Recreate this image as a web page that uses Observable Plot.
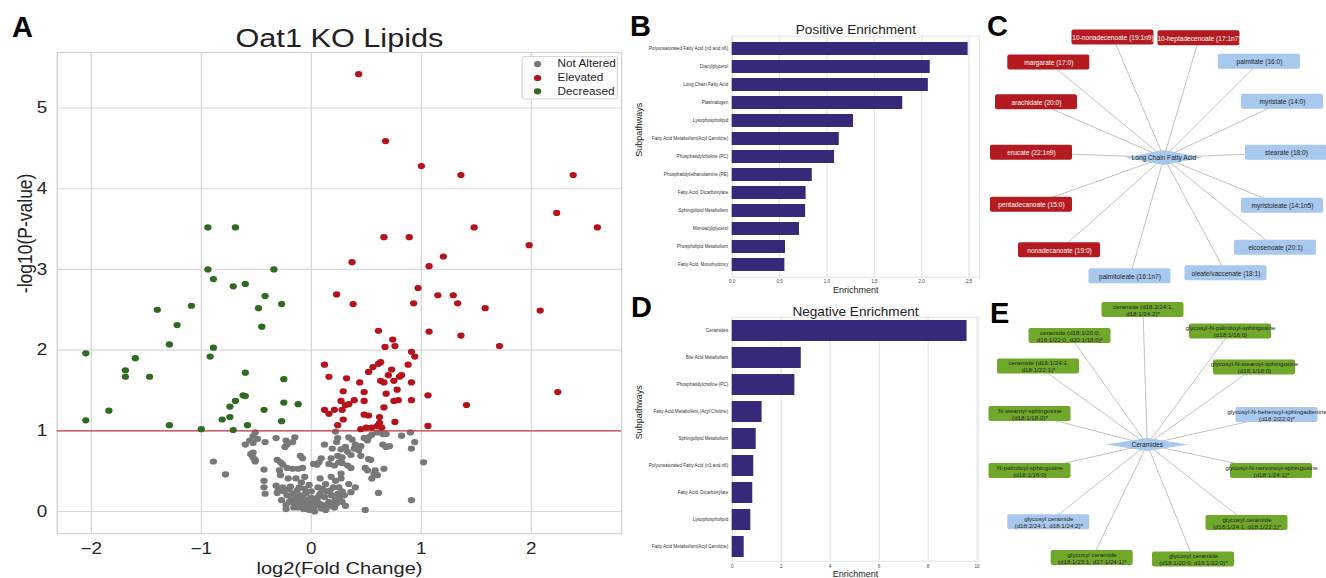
<!DOCTYPE html>
<html>
<head>
<meta charset="utf-8">
<script src="https://cdn.jsdelivr.net/npm/d3@7"></script>
<script src="https://cdn.jsdelivr.net/npm/@observablehq/plot@0.6"></script>
<style>
  html, body { margin: 0; padding: 0; background: #fff; }
  body { width: 1326px; height: 578px; overflow: hidden; position: relative;
         font-family: Arial, "Liberation Sans", Helvetica, sans-serif; }
</style>
</head>
<body>
<script>
// ------------------------------------------------------------------
// DATA
// ------------------------------------------------------------------
// Panel A: volcano plot (log2 fold change, -log10 p-value)
const volcanoTitle = "Oat1 KO Lipids";
const volcanoXLabel = "log2(Fold Change)";
const volcanoYLabel = "-log10(P-value)";
const statusLabels = ["Not Altered", "Elevated", "Decreased"];
const volcanoXTicks = [-2, -1, 0, 1, 2];
const volcanoYTicks = [0, 1, 2, 3, 4, 5];
const pThreshold = 1;

const notAltered = [
  [-0.51,0.98],[-0.53,0.93],[-0.49,0.90],[-0.56,0.88],[-0.53,0.85],[-0.60,0.83],[-0.42,0.86],[-0.32,0.91],
  [-0.15,0.92],[-0.23,0.88],[-0.17,0.86],[-0.22,0.83],[-0.24,0.80],[-0.55,0.71],[-0.53,0.67],[-0.51,0.62],
  [-0.53,0.73],[-0.51,0.64],[-0.10,0.69],[-0.08,0.66],[-0.31,0.64],[-0.28,0.61],[-0.26,0.58],[-0.22,0.54],
  [-0.17,0.53],[-0.12,0.53],[-0.08,0.54],[0.05,0.58],[-0.43,0.52],[-0.29,0.51],[-0.28,0.45],[-0.21,0.41],
  [-0.14,0.41],[-0.06,0.43],[-0.78,0.46],[-0.43,0.38],[-0.43,0.30],[-0.42,0.22],[-0.32,0.32],[-0.26,0.30],
  [-0.31,0.23],[-0.89,0.62],[-0.30,0.26],[-0.23,0.03],[-0.17,0.12],
  [-0.25,0.25],[-0.22,0.20],[-0.20,0.28],[-0.18,0.15],[-0.17,0.22],[-0.15,0.10],[-0.14,0.18],[-0.13,0.26],
  [-0.12,0.05],[-0.11,0.13],[-0.10,0.20],[-0.09,0.08],[-0.08,0.16],[-0.07,0.03],[-0.06,0.11],[-0.05,0.22],
  [-0.04,0.06],[-0.03,0.14],[-0.02,0.02],[-0.01,0.09],[0.00,0.17],[0.01,0.04],[0.02,0.12],[0.03,0.00],
  [0.04,0.07],[0.05,0.15],[-0.20,0.12],[-0.16,0.05],[-0.23,0.08],[-0.27,0.14],[-0.19,0.31],[-0.11,0.30],
  [-0.06,0.28],[0.00,0.25],[-0.02,0.33],[-0.09,0.36],
  [0.06,0.30],[0.08,0.22],[0.10,0.28],[0.12,0.18],[0.14,0.25],[0.16,0.12],[0.18,0.20],[0.20,0.30],
  [0.22,0.15],[0.24,0.22],[0.07,0.10],[0.09,0.04],[0.11,0.08],[0.13,0.02],[0.15,0.06],[0.17,0.26],
  [0.19,0.09],[0.21,0.05],[0.23,0.10],[0.26,0.18],[0.28,0.12],[0.06,0.18],[0.25,0.30],[0.28,0.25],[0.30,0.20],
  [0.22,0.99],[0.34,0.92],[0.37,0.89],[0.24,0.91],[0.23,0.86],[0.12,0.83],[0.19,0.78],[0.27,0.77],
  [0.31,0.80],[0.33,0.74],[0.40,0.83],[0.45,0.81],[0.43,0.76],[0.39,0.78],[0.48,0.91],[0.52,0.92],
  [0.51,0.88],[0.55,0.95],[0.60,0.98],[0.65,0.96],[0.68,0.96],[0.82,0.94],[0.90,0.98],[0.94,0.86],
  [0.65,0.83],[0.68,0.80],[0.91,0.78],[0.71,0.81],[0.09,0.66],[0.18,0.66],[0.24,0.69],[0.28,0.67],
  [0.36,0.70],[0.45,0.69],[0.52,0.65],[0.54,0.64],[0.07,0.61],[0.16,0.59],[0.21,0.57],[0.25,0.61],
  [0.28,0.60],[0.33,0.57],[0.36,0.54],[0.49,0.54],[0.51,0.51],[0.58,0.51],[0.66,0.53],[0.02,0.59],
  [0.08,0.41],[0.18,0.43],[0.22,0.38],[0.27,0.41],[0.27,0.47],[0.13,0.34],[0.57,0.47],[0.60,0.45],
  [0.55,0.41],[0.34,0.34],[0.40,0.30],[0.36,0.24],[0.61,0.23],[0.91,0.14],[0.31,0.07],[0.49,0.02],[1.02,0.61]
];
const elevated = [
  [0.43,5.42],[0.675,4.59],[1.00,4.28],[1.36,4.17],[2.38,4.17],[2.23,3.70],[2.60,3.52],[1.48,3.52],
  [0.66,3.40],[0.89,3.40],[1.98,3.30],[0.37,3.09],[1.20,3.16],[1.07,3.04],[0.97,2.77],
  [0.23,2.69],[0.38,2.57],[1.15,2.68],[1.29,2.68],[1.33,2.58],[0.93,2.58],[1.58,2.52],[2.08,2.49],
  [0.61,2.24],[1.07,2.23],[1.36,2.18],[0.74,2.13],[0.67,2.04],[0.76,2.05],[1.71,2.05],[0.91,1.98],
  [0.94,1.92],[0.12,1.82],[0.63,1.85],[0.56,1.79],[0.61,1.83],[0.88,1.82],[0.52,1.73],[0.73,1.76],
  [0.82,1.69],[0.80,1.67],[0.16,1.67],[0.32,1.65],[0.70,1.69],[0.44,1.60],[0.63,1.62],[0.66,1.60],
  [0.75,1.62],[0.91,1.60],[0.29,1.49],[0.48,1.48],[0.68,1.46],[0.78,1.51],[1.06,1.44],[0.27,1.37],
  [0.39,1.38],[0.48,1.37],[0.34,1.33],[0.31,1.32],[0.75,1.37],[0.79,1.38],[0.91,1.38],[1.41,1.32],
  [0.66,1.29],[0.12,1.26],[0.21,1.26],[0.16,1.21],[0.28,1.26],[0.48,1.20],[0.52,1.19],[0.62,1.17],
  [0.29,1.14],[2.24,1.48],[0.76,1.11],[0.24,1.07],[0.62,1.10],[0.60,1.06],[0.55,1.04],[0.45,1.02],
  [0.50,1.04],[0.64,1.04],[1.06,1.06]
];
const decreased = [
  [-0.94,3.52],[-0.69,3.52],[-0.94,3.00],[-0.89,2.88],[-0.71,2.79],[-0.60,2.82],[-0.34,3.00],[-0.42,2.67],
  [-1.09,2.55],[-1.40,2.50],[-0.48,2.52],[-0.27,2.57],[-1.22,2.31],[-0.45,2.29],[-1.29,2.07],[-0.89,2.03],
  [-0.92,1.92],[-2.05,1.96],[-1.60,1.90],[-1.69,1.75],[-1.69,1.67],[-1.47,1.67],[-0.60,1.72],[-0.25,1.64],
  [-0.62,1.44],[-0.60,1.43],[-0.69,1.37],[-0.74,1.30],[-0.43,1.26],[-0.25,1.35],[-0.12,1.33],[-1.84,1.25],
  [-2.05,1.13],[-0.81,1.14],[-0.74,1.17],[-0.27,1.12],[-1.29,1.07],[-1.00,1.02],[-0.71,1.01],[-0.58,1.07]
];

// Panel B: positive enrichment
const posTitle = "Positive Enrichment";
const posCategories = [
  "Polyunsaturated Fatty Acid (n3 and n6)", "Diacylglycerol", "Long Chain Fatty Acid", "Plasmalogen",
  "Lysophospholipid", "Fatty Acid Metabolism(Acyl Carnitine)", "Phosphatidylcholine (PC)",
  "Phosphatidylethanolamine (PE)", "Fatty Acid, Dicarboxylate", "Sphingolipid Metabolism",
  "Monoacylglycerol", "Phospholipid Metabolism", "Fatty Acid, Monohydroxy"
];
const posValues = [2.49, 2.09, 2.07, 1.80, 1.28, 1.13, 1.08, 0.845, 0.78, 0.775, 0.71, 0.563, 0.556];
const posTicks = [0, 0.5, 1.0, 1.5, 2.0, 2.5];

// Panel D: negative enrichment
const negTitle = "Negative Enrichment";
const negCategories = [
  "Ceramides", "Bile Acid Metabolism", "Phosphatidylcholine (PC)", "Fatty Acid Metabolism (Acyl Choline)",
  "Sphingolipid Metabolism", "Polyunsaturated Fatty Acid (n3 and n6)", "Fatty Acid, Dicarboxylate",
  "Lysophospholipid", "Fatty Acid Metabolism(Acyl Carnitine)"
];
const negValues = [9.59, 2.82, 2.56, 1.22, 0.98, 0.88, 0.84, 0.76, 0.49];
const negTicks = [0, 2, 4, 6, 8, 10];
const barAxisLabel = "Enrichment";
const barCategoryLabel = "Subpathways";

// Panel C: Long Chain Fatty Acid network (layout coordinates relative to hub)
const lcfaHub = "Long Chain Fatty Acid";
const lcfaNames = [
  "10-nonadecenoate (19:1n9)", "10-heptadecenoate (17:1n7)", "palmitate (16:0)", "myristate (14:0)",
  "stearate (18:0)", "myristoleate (14:1n5)", "eicosenoate (20:1)", "oleate/vaccenate (18:1)",
  "palmitoleate (16:1n7)", "nonadecanoate (19:0)", "pentadecanoate (15:0)", "erucate (22:1n9)",
  "arachidate (20:0)", "margarate (17:0)"
];
const lcfaElevated = [true, true, false, false, false, false, false, false, false, true, true, true, true, true];
const lcfaLayoutX = [-50.8, 35.2, 95.7, 118.7, 122.7, 118.7, 111.7, 62.2, -33.8, -104.3, -132.3, -132.3, -127.3, -115.0];
const lcfaLayoutY = [-120.0, -119.2, -95.7, -55.7, -4.7, 48.3, 90.3, 115.8, 118.8, 92.8, 47.3, -4.7, -55.2, -94.9];

// Panel E: Ceramides network
const cerHub = "Ceramides";
const cerNames = [
  "ceramide (d18:2/24:1,\nd18:1/24:2)*", "glycosyl-N-palmitoyl-sphingosine\n(d18:1/16:0)",
  "glycosyl-N-stearoyl-sphingosine\n(d18:1/18:0)", "glycosyl-N-behenoyl-sphingadienine\n(d18:2/22:0)*",
  "glycosyl-N-nervonoyl-sphingosine\n(d18:1/24:1)*", "glycosyl ceramide\n(d16:1/24:1, d18:1/22:1)*",
  "glycosyl ceramide\n(d18:1/20:0, d16:1/22:0)*", "glycosyl ceramide\n(d18:1/23:1, d17:1/24:1)*",
  "glycosyl ceramide\n(d18:2/24:1, d18:1/24:2)*", "N-palmitoyl-sphingosine\n(d18:1/16:0)",
  "N-stearoyl-sphingosine\n(d18:1/18:0)*", "ceramide (d16:1/24:1,\nd18:1/22:1)*",
  "ceramide (d18:1/20:0,\nd16:1/22:0, d20:1/18:0)*"
];
const cerDecreased = [true, true, true, false, true, true, true, true, false, true, true, true, true];
const cerLayoutX = [-4.2, 83.3, 107.3, 129.8, 124.3, 99.8, 46.3, -55.0, -98.4, -117.2, -117.2, -108.7, -77.2];
const cerLayoutY = [-134.5, -113.0, -77.0, -29.5, 26.5, 78.5, 115.0, 113.5, 77.7, 26.5, -30.5, -78.0, -108.5];

const panelLetters = ["A", "B", "C", "D", "E"];

// ------------------------------------------------------------------
// STYLE / LAYOUT
// ------------------------------------------------------------------
const FONT = 'Arial, "Liberation Sans", Helvetica, sans-serif';
const statusColors = ["#787878", "#b5121b", "#2e6a21"];
const barColor = "#35297a";
const red = "#b31b20", blue = "#a8c8ed", green = "#6fa82b";
const SX = 1.18; // panel A horizontal stretch

function addAbs(node, left, top) {
  node.style.position = "absolute";
  node.style.left = left + "px";
  node.style.top = top + "px";
  return node;
}

// ------------------------------------------------------------------
// PANEL A
// ------------------------------------------------------------------
const wrapA = document.createElement("div");
wrapA.style.cssText = `position:absolute;left:0;top:0;width:${628 / SX}px;height:578px;transform:scaleX(${SX});transform-origin:0 0;`;
document.body.appendChild(wrapA);

const ptX = d => d[0], ptY = d => d[1];
const frameLeftA = 56.7 / SX;
const plotA = Plot.plot({
  width: 628 / SX, height: 578,
  marginLeft: frameLeftA, marginRight: 7 / SX, marginTop: 52, marginBottom: 44.7,
  style: {fontFamily: FONT, fontSize: "16px", background: "transparent", color: "#262626", overflow: "visible"},
  x: {domain: [-2.309, 2.82], label: null},
  y: {domain: [-0.276, 5.688], label: null},
  marks: [
    Plot.gridX(volcanoXTicks, {stroke: "#d9d9d9", strokeOpacity: 1, strokeWidth: 1.1}),
    Plot.gridY(volcanoYTicks, {stroke: "#d9d9d9", strokeOpacity: 1, strokeWidth: 1.1}),
    Plot.frame({stroke: "#d0d0d0", strokeWidth: 1.1}),
    Plot.dot(notAltered, {x: ptX, y: ptY, r: 3.1, fill: statusColors[0], stroke: null}),
    Plot.ruleY([pThreshold], {stroke: "#c23a40", strokeWidth: 1.3}),
    Plot.dot(elevated, {x: ptX, y: ptY, r: 3.1, fill: statusColors[1]}),
    Plot.dot(decreased, {x: ptX, y: ptY, r: 3.1, fill: statusColors[2]}),
    Plot.axisX(volcanoXTicks, {tickSize: 0, tickPadding: 9, fontSize: 16, tickFormat: d3.format("d"), label: null}),
    Plot.axisY(volcanoYTicks, {tickSize: 0, tickPadding: 8.5, fontSize: 16, tickFormat: d3.format("d"), label: null}),
    Plot.text([volcanoTitle], {frameAnchor: "top", dy: -5.5, lineAnchor: "bottom", fontSize: 26, fill: "#222"}),
    Plot.text([volcanoXLabel], {frameAnchor: "bottom", dy: 40, lineAnchor: "bottom", fontSize: 17, fill: "#222"}),
    Plot.text([volcanoYLabel], {frameAnchor: "left", dx: 24.5 / SX - frameLeftA, rotate: -90, lineAnchor: "middle", fontSize: 17.5, fill: "#222"})
  ]
});
wrapA.appendChild(addAbs(plotA, 0, 0));

// legend (inside stretched wrapper)
{
  const lw = 96.5 / SX, lh = 43.5;
  const leg = d3.create("svg").attr("width", lw).attr("height", lh)
    .style("overflow", "visible").style("font-family", FONT);
  leg.append("rect").attr("x", 0.5).attr("y", 0.5).attr("width", lw - 1).attr("height", lh - 1)
    .attr("rx", 2.5).attr("fill", "rgba(255,255,255,0.9)").attr("stroke", "#d6d6d6");
  const rowsY = [8, 22, 35.3];
  statusLabels.forEach((lab, i) => {
    leg.append("circle").attr("cx", 16 / SX).attr("cy", rowsY[i]).attr("r", 3.1).attr("fill", statusColors[i]);
    leg.append("text").attr("x", 36 / SX).attr("y", rowsY[i]).attr("dy", "0.35em")
      .attr("font-size", 10).attr("fill", "#262626").text(lab);
  });
  wrapA.appendChild(addAbs(leg.node(), 521.7 / SX, 56));
}

// ------------------------------------------------------------------
// PANELS B & D (bar charts)
// ------------------------------------------------------------------
function barPanel({top, height, mTop, mBottom, mRight, domainMax, cats, vals, ticks, fmt, title, titleDy, xLabDy, tickPad, subX, pIn, pOut}) {
  const data = cats.map((c, i) => ({c, v: vals[i]}));
  const mLeft = 101.7;
  const svg = Plot.plot({
    width: 350, height,
    marginLeft: mLeft, marginRight: mRight, marginTop: mTop, marginBottom: mBottom,
    style: {fontFamily: FONT, fontSize: "4.6px", background: "transparent", color: "#333", overflow: "visible"},
    x: {domain: [0, domainMax], label: null},
    y: {domain: cats, paddingInner: pIn, paddingOuter: pOut, label: null},
    marks: [
      Plot.frame({stroke: "#e4e4e4"}),
      Plot.gridX(ticks, {stroke: "#e0e0e0", strokeOpacity: 1}),
      Plot.barX(data, {x: "v", y: "c", fill: barColor}),
      Plot.axisX(ticks, {tickSize: 0, tickPadding: tickPad, fontSize: 4.6, tickFormat: fmt, label: null, fill: "#444"}),
      Plot.axisY({tickSize: 0, tickPadding: 4, fontSize: 4.6, label: null, fill: "#333"}),
      Plot.text([title], {frameAnchor: "top", dy: titleDy, lineAnchor: "bottom", fontSize: 13.6, fill: "#222"}),
      Plot.text([barAxisLabel], {frameAnchor: "bottom", dy: xLabDy, lineAnchor: "bottom", fontSize: 9, fill: "#222"}),
      Plot.text([barCategoryLabel], {frameAnchor: "left", dx: subX - (630 + mLeft), rotate: -90, lineAnchor: "middle", fontSize: 9, fill: "#222"})
    ]
  });
  document.body.appendChild(addAbs(svg, 630, top));
}

barPanel({top: 0, height: 300, mTop: 35.7, mBottom: 23.3, mRight: 1, domainMax: 2.61,
  cats: posCategories, vals: posValues, ticks: posTicks, fmt: d3.format(".1f"),
  title: posTitle, titleDy: -2.4, xLabDy: 15.3, tickPad: 3, subX: 639, pIn: 0.26, pOut: 0.13});

barPanel({top: 290, height: 288, mTop: 26.7, mBottom: 17.3, mRight: 1.7, domainMax: 10.07,
  cats: negCategories, vals: negValues, ticks: negTicks, fmt: d3.format("d"),
  title: negTitle, titleDy: -0.8, xLabDy: 16, tickPad: 4, subX: 638.7, pIn: 0.24, pOut: 0.12});

// ------------------------------------------------------------------
// PANELS C & E (networks)
// ------------------------------------------------------------------
function flatDiamond(hw, hh) {
  return {draw(ctx) { ctx.moveTo(-hw, 0); ctx.lineTo(0, -hh); ctx.lineTo(hw, 0); ctx.lineTo(0, hh); ctx.closePath(); }};
}

function netPanel({left, top, width, height, hubPX, hubPY, nodes, hubLabel, hubHW, hubHH, boxW, boxH, fontSize, hubFont}) {
  const svg = Plot.plot({
    width, height, margin: 0,
    style: {fontFamily: FONT, background: "transparent", overflow: "visible"},
    x: {domain: [-hubPX, width - hubPX], label: null, axis: null},
    y: {domain: [height - hubPY, -hubPY], label: null, axis: null},
    marks: [
      Plot.link(nodes, {x1: () => 0, y1: () => 0, x2: "x", y2: "y", stroke: "#b3b3b3", strokeWidth: 0.8}),
      Plot.rect(nodes, {x1: d => d.x - boxW / 2, x2: d => d.x + boxW / 2, y1: d => d.y - boxH / 2, y2: d => d.y + boxH / 2,
        fill: d => d.color, rx: 2}),
      Plot.text(nodes, {x: "x", y: "y", text: "name", fill: d => d.textColor, fontSize, lineHeight: 1.12}),
      Plot.dot([hubLabel], {x: () => 0, y: () => 0, r: 5, symbol: flatDiamond(hubHW, hubHH), fill: blue, stroke: null}),
      Plot.text([hubLabel], {x: () => 0, y: () => 0, text: d => d, fontSize: hubFont, fill: "#1e1e1e"})
    ]
  });
  document.body.appendChild(addAbs(svg, left, top));
}

netPanel({
  left: 980, top: 0, width: 346, height: 290, hubPX: 183.3, hubPY: 157,
  nodes: lcfaNames.map((name, i) => ({
    name, x: lcfaLayoutX[i], y: lcfaLayoutY[i],
    color: lcfaElevated[i] ? red : blue, textColor: lcfaElevated[i] ? "#ffffff" : "#1e1e1e"
  })),
  hubLabel: lcfaHub, hubHW: 38.5, hubHH: 7.5, boxW: 82, boxH: 15, fontSize: 6.6, hubFont: 6.6
});

netPanel({
  left: 980, top: 290, width: 346, height: 288, hubPX: 166.7, hubPY: 154,
  nodes: cerNames.map((name, i) => ({
    name, x: cerLayoutX[i], y: cerLayoutY[i],
    color: cerDecreased[i] ? green : blue, textColor: "#1e1e1e"
  })),
  hubLabel: cerHub, hubHW: 41, hubHH: 6.5, boxW: 82, boxH: 15, fontSize: 6.2, hubFont: 6.5
});

// ------------------------------------------------------------------
// PANEL LETTERS
// ------------------------------------------------------------------
{
  const pos = [[12, 37.3], [630, 36], [987, 35.5], [631, 316.7], [990, 323.3]];
  const ov = d3.create("svg").attr("width", 1326).attr("height", 578)
    .style("position", "absolute").style("left", "0px").style("top", "0px").style("pointer-events", "none");
  panelLetters.forEach((L, i) => {
    ov.append("text").attr("x", pos[i][0]).attr("y", pos[i][1]).attr("font-family", FONT)
      .attr("font-weight", "bold").attr("font-size", 29).attr("fill", "#000").text(L);
  });
  document.body.appendChild(ov.node());
}
</script>
</body>
</html>
